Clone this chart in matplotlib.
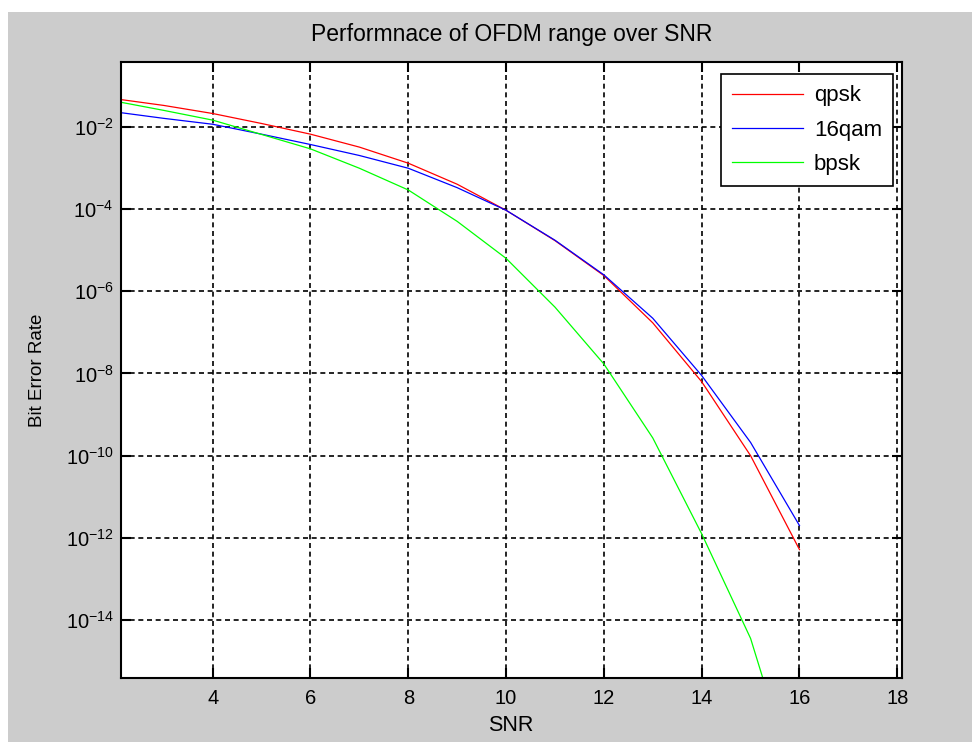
import matplotlib
matplotlib.use("Agg")
import matplotlib.pyplot as plt
from matplotlib.patches import Rectangle

# values
snr = [2, 3, 4, 5, 6, 7, 8, 9, 10, 11, 12, 13, 14, 15, 16]
ber_qpsk = [4.8e-2, 3.3e-2, 2.1e-2, 1.2e-2, 6.6e-3, 3.2e-3, 1.3e-3, 4.0e-4,
            9.3e-5, 1.7e-5, 2.4e-6, 1.7e-7, 6.3e-9, 1.0e-10, 5.2e-13]
ber_16qam = [2.3e-2, 1.6e-2, 1.15e-2, 6.6e-3, 3.7e-3, 2.0e-3, 9.8e-4, 3.3e-4,
             9.3e-5, 1.74e-5, 2.5e-6, 2.2e-7, 8.9e-9, 2.1e-10, 2.0e-12]
ber_bpsk = [4.2e-2, 2.5e-2, 1.45e-2, 6.5e-3, 2.9e-3, 9.8e-4, 2.9e-4, 5.0e-5,
            6.3e-6, 4.1e-7, 1.7e-8, 2.7e-10, 1.26e-12, 3.6e-15, 5.0e-19]
labels = ['qpsk', '16qam', 'bpsk']
colors = ['#ff0000', '#0000ff', '#00ff00']
xticks = [4, 6, 8, 10, 12, 14, 16, 18]
yticks = [1e-2, 1e-4, 1e-6, 1e-8, 1e-10, 1e-12, 1e-14]

plt.rcParams['font.family'] = ['Liberation Sans', 'DejaVu Sans']
plt.rcParams['mathtext.fontset'] = 'custom'
plt.rcParams['mathtext.rm'] = 'Liberation Sans'
plt.rcParams['axes.unicode_minus'] = False

fig = plt.figure(figsize=(9.8, 7.42), dpi=100, facecolor='white')
# matlab-ish gray figure area with a thin white border at top/left/right
fig.patches.append(Rectangle((8 / 980, 0), (972 - 8) / 980, 1 - 12 / 742,
                             transform=fig.transFigure, facecolor='#cccccc',
                             edgecolor='none', zorder=-10))

ax = fig.add_axes([0.1232, 0.0867, 0.7969, 0.8297])
ax.set_facecolor('white')

for y, lab, col in zip([ber_qpsk, ber_16qam, ber_bpsk], labels, colors):
    ax.semilogy(snr, y, color=col, lw=0.9, label=lab)

ax.set_xlim(2.12, 18.09)
ax.set_ylim(4.0e-16, 3.75e-1)
ax.set_xticks(xticks)
ax.set_xticklabels([str(t) for t in xticks])
ax.set_yticks(yticks)
ax.minorticks_off()

ax.grid(True, color='black', linestyle=(0, (3, 2.2)), lw=1.2)
for s in ax.spines.values():
    s.set_linewidth(1.5)
    s.set_color('black')
ax.tick_params(direction='in', length=7, width=1.5, top=True, right=True,
               labelsize=14.5, colors='black')
ax.tick_params(axis='x', pad=8)
ax.tick_params(axis='y', pad=5)

ax.set_title('Performnace of OFDM range over SNR', fontsize=16.5, pad=15)
ax.set_xlabel('SNR', fontsize=15.5, labelpad=5)
ax.set_ylabel('Bit Error Rate', fontsize=13.5, labelpad=14)

leg = ax.legend(loc='upper right', bbox_to_anchor=(0.9892, 0.980), borderaxespad=0,
                fontsize=16, handlelength=3.2, handletextpad=0.5, labelspacing=0.6,
                borderpad=0.5, fancybox=False, framealpha=1, edgecolor='black')
leg.get_frame().set_linewidth(1.2)

fig.savefig('out.png', dpi=100, facecolor=fig.get_facecolor())
